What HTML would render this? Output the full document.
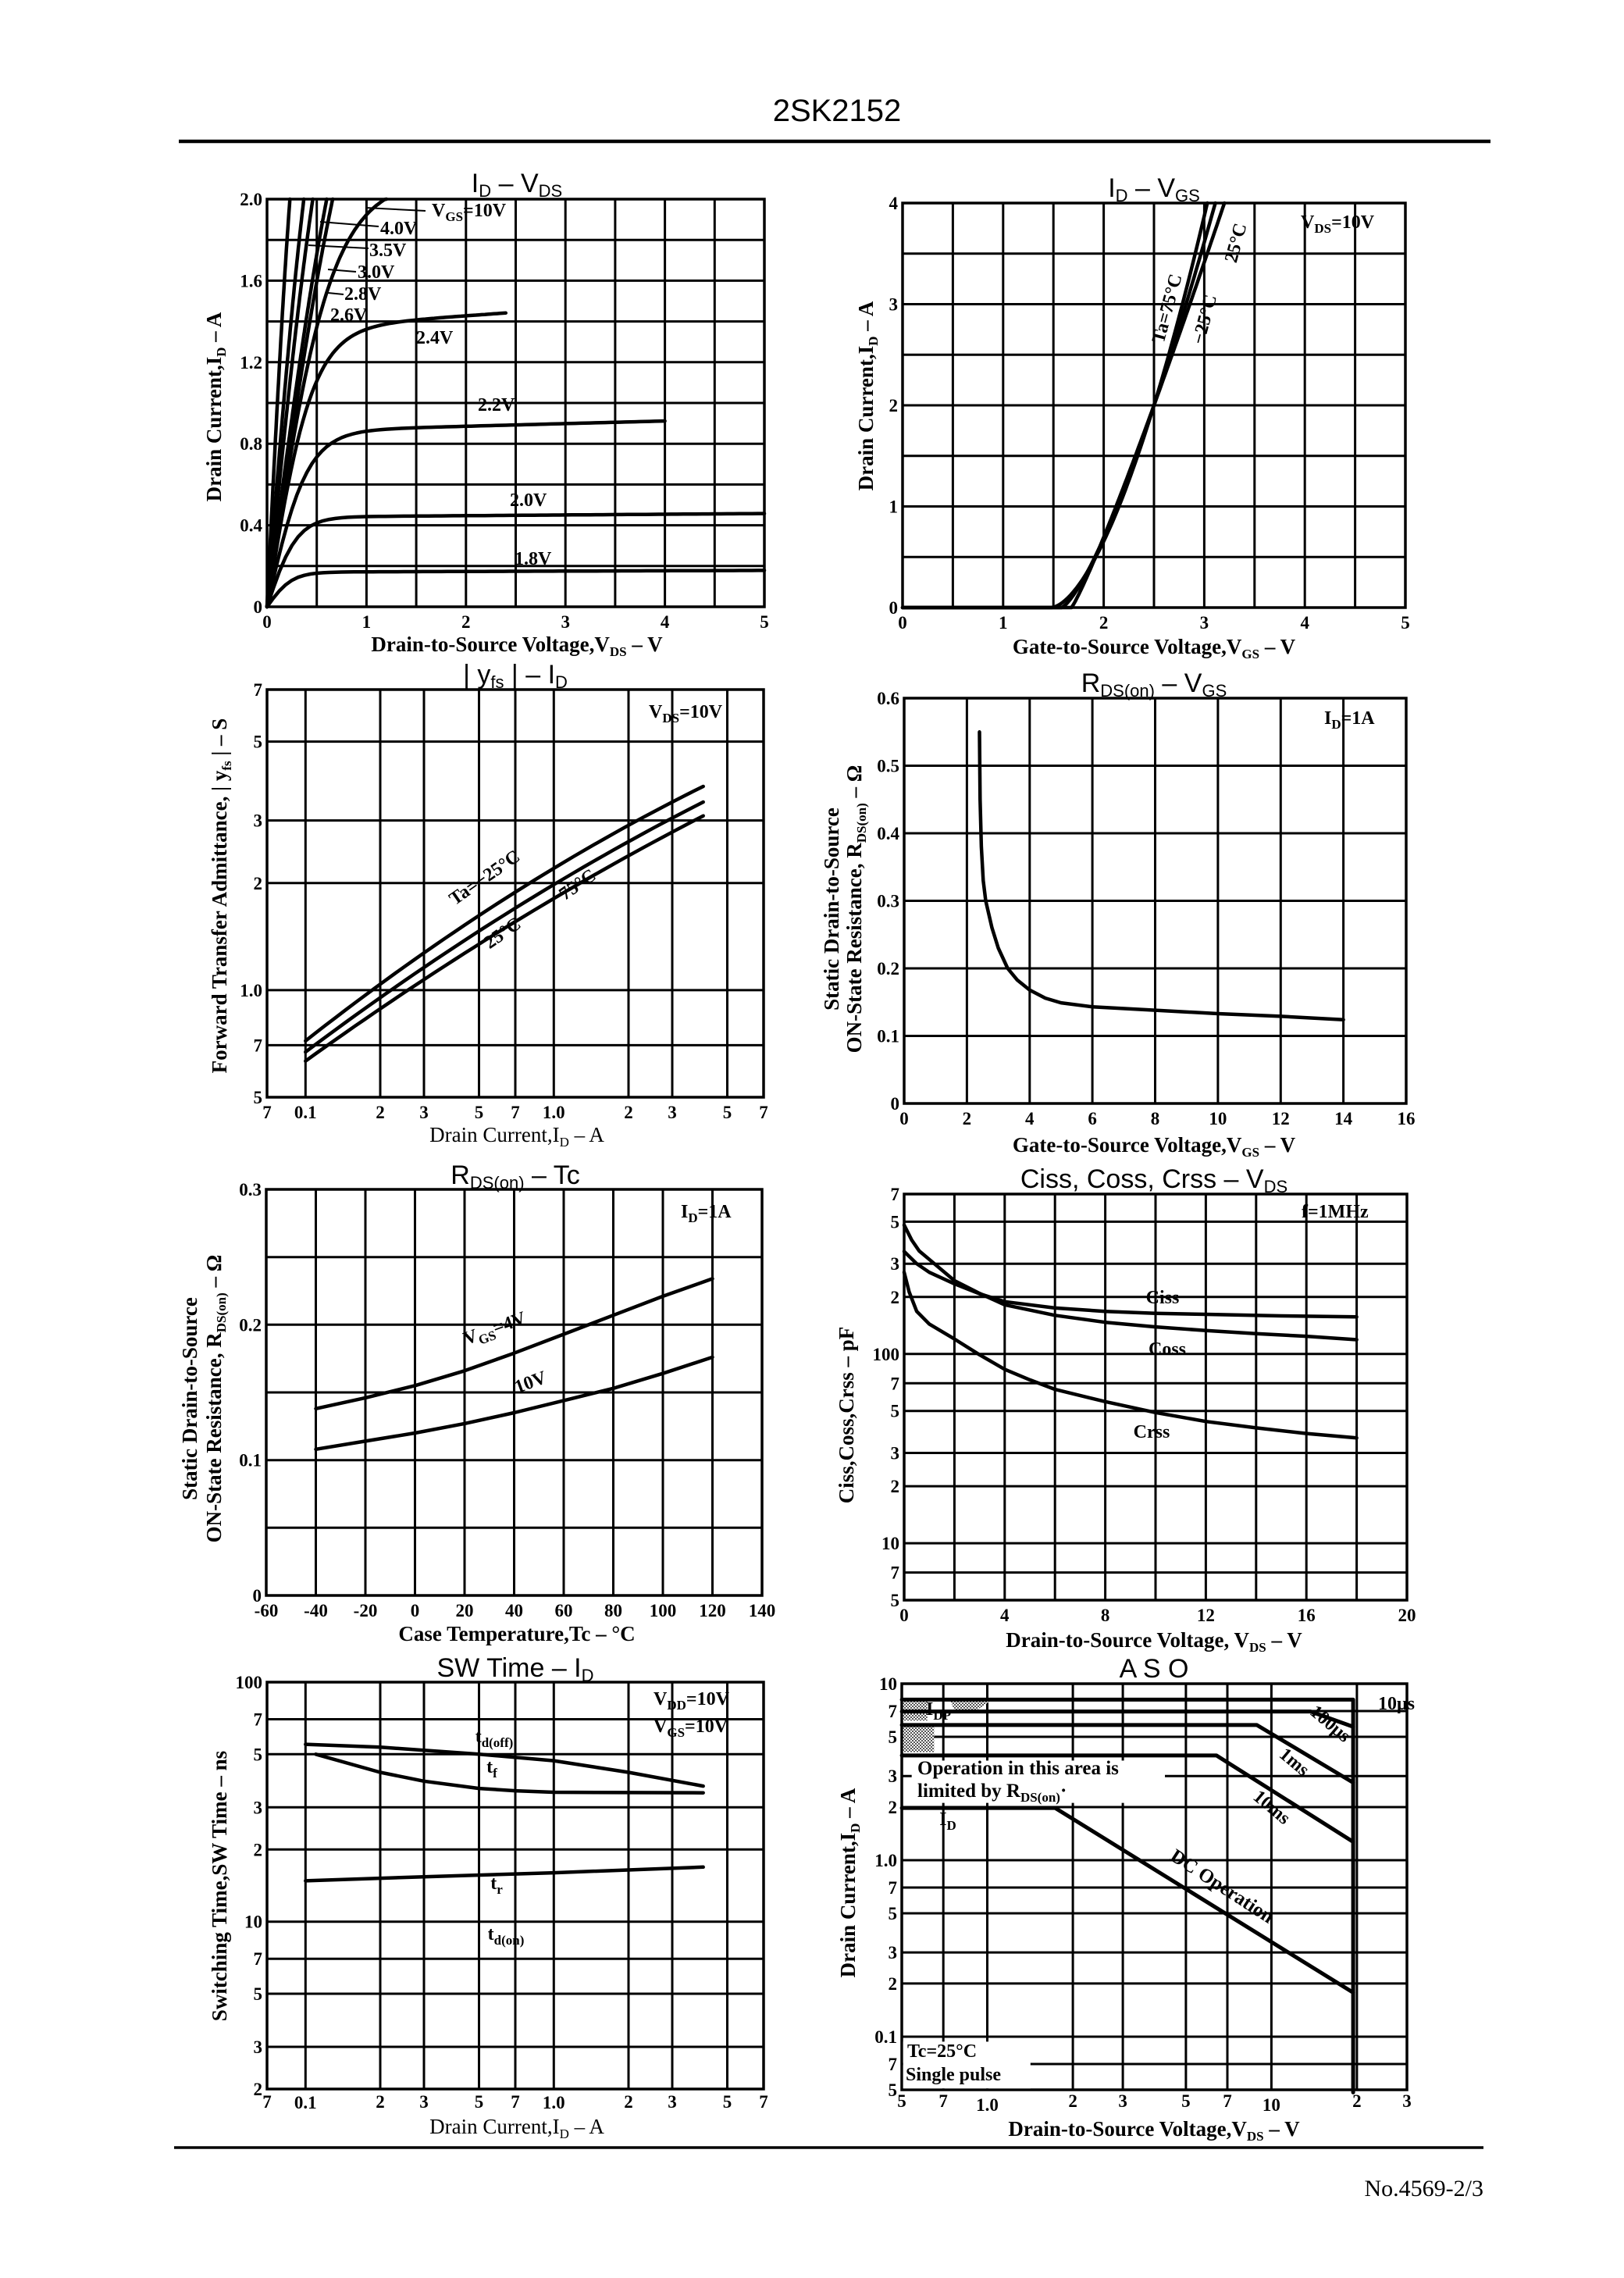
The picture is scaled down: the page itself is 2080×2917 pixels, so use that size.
<!DOCTYPE html>
<html><head><meta charset="utf-8"><style>
html,body{margin:0;padding:0;background:#fff}
svg{display:block}
</style></head><body>
<svg id="s" xmlns="http://www.w3.org/2000/svg" width="2080" height="2917" viewBox="0 0 2080 2917"></svg>
<script>
const S=[];
const SERIF='font-family="Liberation Serif, serif"';
const SANS='font-family="Liberation Sans, sans-serif"';
function L(x1,y1,x2,y2,w){w=w||3;S.push(`<line x1="${x1.toFixed(1)}" y1="${y1.toFixed(1)}" x2="${x2.toFixed(1)}" y2="${y2.toFixed(1)}" stroke="#000" stroke-width="${w}"/>`)}
function P(pts,w){w=w||4.5;S.push(`<polyline fill="none" stroke="#000" stroke-width="${w}" stroke-linejoin="round" stroke-linecap="round" points="${pts.map(p=>p[0].toFixed(1)+','+p[1].toFixed(1)).join(' ')}"/>`)}
function T(x,y,h,o){o=o||{};const sz=o.sz||24,an=o.an||'middle',fam=o.sans?SANS:SERIF,wt=o.wt||'bold';
 const tr=o.rot!==undefined?` transform="rotate(${o.rot} ${x} ${y})"`:'';
 S.push(`<text x="${x}" y="${y}" font-size="${sz}" text-anchor="${an}" ${fam} font-weight="${wt}"${tr}>${h}</text>`)}
function sub(t,sz){sz=sz||17;return `<tspan font-size="${sz}" dy="6">${t}</tspan><tspan dy="-6">`}
function mk(L0,T0,R0,B0,xa,xb,xl,ya,yb,yl){
 const X=v=>L0+(xl?Math.log10(v/xa)/Math.log10(xb/xa):(v-xa)/(xb-xa))*(R0-L0);
 const Y=v=>B0-(yl?Math.log10(v/ya)/Math.log10(yb/ya):(v-ya)/(yb-ya))*(B0-T0);
 return {L0,T0,R0,B0,X,Y};
}
function grid(c,xg,yg){
 xg.forEach(v=>L(c.X(v),c.T0,c.X(v),c.B0,3));
 yg.forEach(v=>L(c.L0,c.Y(v),c.R0,c.Y(v),3));
 S.push(`<rect x="${c.L0}" y="${c.T0}" width="${c.R0-c.L0}" height="${c.B0-c.T0}" fill="none" stroke="#000" stroke-width="3.5"/>`);
}
function curve(c,data,w){P(data.map(d=>[c.X(d[0]),c.Y(d[1])]),w)}
function fn(c,f,a,b,n,ymax){const d=[];for(let i=0;i<=n;i++){const v=a+(b-a)*i/n;let y=f(v);if(ymax!==undefined&&y>ymax){const pv=a+(b-a)*(i-1)/n;d.push([v,ymax]);break;}d.push([v,y]);}curve(c,d);}
function xt(c,vals,labs,dy){vals.forEach((v,i)=>T(c.X(v),c.B0+(dy||27),labs[i],{sz:23}))}
function yt(c,vals,labs,dx){vals.forEach((v,i)=>T(c.L0-(dx||6),c.Y(v)+8,labs[i],{sz:23,an:'end'}))}

// header
T(1072,155,'2SK2152',{sz:40,sans:true,wt:'normal'});
L(229,181,1909,181,4.5);
// footer
L(223,2750,1900,2750,3.5);
T(1900,2812,'No.4569-2/3',{sz:30,an:'end',wt:'normal'});

// ---------- Chart 1 ID-VDS
let c=mk(342,255,979,777,0,5,false,0,2,false);
grid(c,[0.5,1,1.5,2,2.5,3,3.5,4,4.5],[0.2,0.4,0.6,0.8,1,1.2,1.4,1.6,1.8]);
xt(c,[0,1,2,3,4,5],['0','1','2','3','4','5']);
yt(c,[0,0.4,0.8,1.2,1.6,2.0],['0','0.4','0.8','1.2','1.6','2.0']);
T(662,246,'I'+sub('D',22)+'  –  V'+sub('DS',22)+'</tspan>',{sz:34,sans:true,wt:'normal'});
T(662,834,'Drain-to-Source Voltage,V'+sub('DS')+' – V</tspan>',{sz:27});
T(283,521,'Drain Current,I'+sub('D')+' – A</tspan>',{sz:27,rot:-90});
fn(c,v=>0.17*Math.tanh(v/0.25)*(1+0.01*v),0,5,80);
fn(c,v=>0.44*Math.tanh(v/0.3)*(1+0.008*v),0,5,80);
fn(c,v=>0.86*Math.tanh(v/0.4)*(1+0.015*v),0,4,80);
fn(c,v=>1.36*Math.tanh(v/0.45)*(1+0.025*v),0,2.4,80);
fn(c,v=>2.1*Math.tanh(v/0.64),0,2,120,2);
[0.66,0.6,0.46,0.37,0.23].forEach(vt=>{const k=vt/Math.atanh(2/3.5);fn(c,v=>3.5*Math.tanh(v/k),0,1,200,2)});
T(553,277,'V'+sub('GS')+'=10V</tspan>',{sz:24,an:'start'});
T(487,300,'4.0V',{sz:24,an:'start'});
T(473,328,'3.5V',{sz:24,an:'start'});
T(458,356,'3.0V',{sz:24,an:'start'});
T(441,384,'2.8V',{sz:24,an:'start'});
T(423,411,'2.6V',{sz:24,an:'start'});
T(533,440,'2.4V',{sz:24,an:'start'});
T(612,526,'2.2V',{sz:24,an:'start'});
T(653,648,'2.0V',{sz:24,an:'start'});
T(659,723,'1.8V',{sz:24,an:'start'});
L(545,270,468,266,2);L(485,290,410,284,2);L(472,318,395,314,2);L(456,348,420,345,2);L(440,377,420,375,2);

// ---------- Chart 2 ID-VGS
c=mk(1156,260,1800,778,0,5,false,0,4,false);
grid(c,[0.5,1,1.5,2,2.5,3,3.5,4,4.5],[0.5,1,1.5,2,2.5,3,3.5]);
xt(c,[0,1,2,3,4,5],['0','1','2','3','4','5']);
yt(c,[0,1,2,3,4],['0','1','2','3','4']);
T(1478,252,'I'+sub('D',22)+'  –  V'+sub('GS',22)+'</tspan>',{sz:34,sans:true,wt:'normal'});
T(1478,837,'Gate-to-Source Voltage,V'+sub('GS')+' – V</tspan>',{sz:27});
T(1118,507,'Drain Current,I'+sub('D')+' – A</tspan>',{sz:27,rot:-90});
[[1.48,3.03],[1.58,3.11],[1.68,3.2]].forEach(([vt,vtop])=>{const n=Math.log(2)/Math.log((vtop-vt)/(2.5-vt));const k=2/Math.pow(2.5-vt,n);
 const d=[[0,0]];for(let i=0;i<=80;i++){const v=vt+(vtop-vt)*i/80;d.push([v,k*Math.pow(v-vt,n)])}curve(c,d)});
T(1666,292,'V'+sub('DS')+'=10V</tspan>',{sz:24,an:'start'});
T(1502,397,'Ta=75°C',{sz:24,rot:-75});
T(1590,313,'25°C',{sz:24,rot:-75});
T(1550,411,'−25°C',{sz:24,rot:-75});

// ---------- Chart 3 yfs-ID
c=mk(342,883,978,1405,0.07,7,true,0.5,7,true);
grid(c,[0.1,0.2,0.3,0.5,0.7,1,2,3,5],[0.7,1,2,3,5]);
xt(c,[0.07,0.1,0.2,0.3,0.5,0.7,1,2,3,5,7],['7','0.1','2','3','5','7','1.0','2','3','5','7']);
yt(c,[0.5,0.7,1,2,3,5,7],['5','7','1.0','2','3','5','7']);
T(660,875,'| y'+sub('fs',22)+' |  –  I</tspan>'+sub('D',22)+'</tspan>',{sz:34,sans:true,wt:'normal'});
T(662,1462,'Drain Current,I'+sub('D')+' – A</tspan>',{sz:27,wt:'normal'});
T(290,1147,'Forward Transfer Admittance, | y'+sub('fs')+' |  –  S</tspan>',{sz:27,rot:-90});
[[0.72,2.2,3.74],[0.67,1.98,3.38],[0.632,1.81,3.09]].forEach(([a,m,b])=>{
 const la=Math.log10(a),lm=Math.log10(m),lb=Math.log10(b);const x0=-1,x1=0,x2=Math.log10(4);
 const d=[];for(let i=0;i<=40;i++){const x=x0+(x2-x0)*i/40;
 const y=la*(x-x1)*(x-x2)/((x0-x1)*(x0-x2))+lm*(x-x0)*(x-x2)/((x1-x0)*(x1-x2))+lb*(x-x0)*(x-x1)/((x2-x0)*(x2-x1));d.push([Math.pow(10,x),Math.pow(10,y)])}curve(c,d)});
T(831,919,'V'+sub('DS')+'=10V</tspan>',{sz:24,an:'start'});
T(625,1130,'Ta=−25°C',{sz:24,rot:-35});
T(744,1139,'75°C',{sz:24,rot:-35});
T(648,1201,'25°C',{sz:24,rot:-35});

// ---------- Chart 4 Rds-VGS
c=mk(1158,894,1801,1413,0,16,false,0,0.6,false);
grid(c,[2,4,6,8,10,12,14],[0.1,0.2,0.3,0.4,0.5]);
xt(c,[0,2,4,6,8,10,12,14,16],['0','2','4','6','8','10','12','14','16']);
yt(c,[0,0.1,0.2,0.3,0.4,0.5,0.6],['0','0.1','0.2','0.3','0.4','0.5','0.6']);
T(1478,886,'R'+sub('DS(on)',22)+'  –  V</tspan>'+sub('GS',22)+'</tspan>',{sz:34,sans:true,wt:'normal'});
T(1478,1475,'Gate-to-Source Voltage,V'+sub('GS')+' – V</tspan>',{sz:27});
T(1074,1164,'Static Drain-to-Source',{sz:27,rot:-90});
T(1103,1164,'ON-State Resistance, R'+sub('DS(on)')+' – Ω</tspan>',{sz:27,rot:-90});
curve(c,[[2.4,0.55],[2.42,0.45],[2.46,0.38],[2.52,0.33],[2.6,0.3],[2.8,0.26],[3.0,0.23],[3.3,0.2],[3.6,0.183],[4,0.168],[4.5,0.156],[5,0.149],[6,0.143],[8,0.138],[10,0.133],[12,0.129],[14,0.124]]);
T(1696,927,'I'+sub('D')+'=1A</tspan>',{sz:24,an:'start'});

// ---------- Chart 5 Rds-Tc
c=mk(341,1523,976,2043,-60,140,false,0,0.3,false);
grid(c,[-40,-20,0,20,40,60,80,100,120],[0.05,0.1,0.15,0.2,0.25]);
xt(c,[-60,-40,-20,0,20,40,60,80,100,120,140],['-60','-40','-20','0','20','40','60','80','100','120','140']);
yt(c,[0,0.1,0.2,0.3],['0','0.1','0.2','0.3']);
T(660,1516,'R'+sub('DS(on)',22)+'  –  Tc</tspan>',{sz:34,sans:true,wt:'normal'});
T(662,2101,'Case Temperature,Tc – °C',{sz:27});
T(252,1791,'Static Drain-to-Source',{sz:27,rot:-90});
T(283,1791,'ON-State Resistance, R'+sub('DS(on)')+' – Ω</tspan>',{sz:27,rot:-90});
curve(c,[[-40,0.138],[-20,0.146],[0,0.155],[20,0.166],[40,0.179],[60,0.193],[80,0.207],[100,0.221],[120,0.234]]);
curve(c,[[-40,0.108],[-20,0.114],[0,0.12],[20,0.127],[40,0.135],[60,0.144],[80,0.153],[100,0.164],[120,0.176]]);
T(872,1559,'I'+sub('D')+'=1A</tspan>',{sz:24,an:'start'});
T(636,1708,'V'+sub('GS')+'=4V</tspan>',{sz:24,rot:-20});
T(682,1777,'10V',{sz:24,rot:-20});

// ---------- Chart 6 C-VDS
c=mk(1158,1529,1802,2049,0,20,false,5,700,true);
grid(c,[2,4,6,8,10,12,14,16,18],[7,10,20,30,50,70,100,200,300,500]);
xt(c,[0,4,8,12,16,20],['0','4','8','12','16','20']);
yt(c,[5,7,10,20,30,50,70,100,200,300,500,700],['5','7','10','2','3','5','7','100','2','3','5','7']);
T(1478,1521,'Ciss, Coss, Crss  –  V'+sub('DS',22)+'</tspan>',{sz:34,sans:true,wt:'normal'});
T(1478,2109,'Drain-to-Source Voltage, V'+sub('DS')+' – V</tspan>',{sz:27});
T(1093,1812,'Ciss,Coss,Crss – pF',{sz:27,rot:-90});
curve(c,[[0,348],[0.5,300],[1,270],[2,235],[3,208],[4,189],[6,175],[8,168],[10,164],[12,162],[15,159],[18,157]]);
curve(c,[[0,480],[0.3,400],[0.6,350],[1,316],[2,244],[3,209],[4,182],[6,160],[8,147],[10,139],[12,133],[14,128],[16,124],[18,119]]);
curve(c,[[0,270],[0.2,213],[0.5,168],[1,144],[2,120],[3,99],[4,83],[5,73],[6,65],[8,56],[10,49],[12,44],[14,40.7],[16,38],[18,36]]);
T(1489,1669,'Ciss',{sz:24});T(1495,1735,'Coss',{sz:24});T(1475,1841,'Crss',{sz:24});
T(1667,1559,'f=1MHz',{sz:24,an:'start'});

// ---------- Chart 7 SW time
c=mk(342,2154,978,2675,0.07,7,true,2,100,true);
grid(c,[0.1,0.2,0.3,0.5,0.7,1,2,3,5],[3,5,7,10,20,30,50,70]);
xt(c,[0.07,0.2,0.3,0.5,0.7,2,3,5,7],['7','2','3','5','7','2','3','5','7'],24);
T(c.X(0.1),2700,'0.1',{sz:23});T(c.X(1),2700,'1.0',{sz:23});
yt(c,[2,3,5,7,10,20,30,50,70,100],['2','3','5','7','10','2','3','5','7','100']);
T(660,2147,'SW Time  –  I'+sub('D',22)+'</tspan>',{sz:34,sans:true,wt:'normal'});
T(662,2732,'Drain Current,I'+sub('D')+' – A</tspan>',{sz:27,wt:'normal'});
T(290,2415,'Switching Time,SW Time – ns',{sz:27,rot:-90});
curve(c,[[0.1,55],[0.2,53.5],[0.5,50],[1,47],[2,42],[4,36.8]]);
curve(c,[[0.11,50],[0.2,42],[0.3,38.6],[0.5,36],[0.7,35.2],[1,34.7],[4,34.5]]);
curve(c,[[0.1,14.8],[0.3,15.4],[1,16],[4,16.9]]);
T(837,2183,'V'+sub('DD')+'=10V</tspan>',{sz:24,an:'start'});
T(837,2218,'V'+sub('GS')+'=10V</tspan>',{sz:24,an:'start'});
T(633,2231,'t'+sub('d(off)')+'</tspan>',{sz:24});
T(630,2270,'t'+sub('f')+'</tspan>',{sz:24});
T(636,2419,'t'+sub('r')+'</tspan>',{sz:24});
T(648,2484,'t'+sub('d(on)')+'</tspan>',{sz:24});

// ---------- Chart 8 ASO
c=mk(1155,2156,1802,2676,0.5,30,true,0.05,10,true);
grid(c,[0.7,1,2,3,5,7,10,20],[0.07,0.1,0.2,0.3,0.5,0.7,1,2,3,5,7]);
xt(c,[0.5,0.7,2,3,5,7,20,30],['5','7','2','3','5','7','2','3'],22);
T(c.X(1),2703,'1.0',{sz:23});T(c.X(10),2703,'10',{sz:23});
yt(c,[0.05,0.07,0.1,0.2,0.3,0.5,0.7,1,2,3,5,7,10],['5','7','0.1','2','3','5','7','1.0','2','3','5','7','10']);
T(1478,2148,'A S O',{sz:34,sans:true,wt:'normal'});
T(1478,2735,'Drain-to-Source Voltage,V'+sub('DS')+' – V</tspan>',{sz:27});
T(1095,2411,'Drain Current,I'+sub('D')+' – A</tspan>',{sz:27,rot:-90});
const zx=v=>1050+v/1.742, zy=v=>2120+v/2.306;
S.push(`<defs><pattern id="dots" width="4" height="4" patternUnits="userSpaceOnUse"><rect width="4" height="4" fill="#fff"/><rect width="2" height="2" fill="#555"/><rect x="2" y="2" width="2" height="2" fill="#555"/></pattern></defs>`);
S.push(`<rect x="${zx(186)}" y="${zy(128)}" width="${zx(240)-zx(186)}" height="${zy(192)-zy(128)}" fill="url(#dots)"/>`);
S.push(`<rect x="${zx(186)}" y="${zy(205)}" width="${zx(255)-zx(186)}" height="${zy(285)-zy(205)}" fill="url(#dots)"/>`);
S.push(`<polygon points="${zx(290)},${zy(130)} ${zx(385)},${zy(130)} ${zx(340)},${zy(170)} ${zx(300)},${zy(160)}" fill="url(#dots)"/>`);
P([[zx(183),zy(130)],[zx(1190),zy(130)],[zx(1190),zy(1290)]],5);
P([[zx(183),zy(165)],[zx(1095),zy(165)],[zx(1190),zy(210)]],5);
P([[zx(183),zy(205)],[zx(975),zy(205)],[zx(1190),zy(375)]],5);
P([[zx(183),zy(295)],[zx(885),zy(295)],[zx(1190),zy(550)]],5);
P([[zx(183),zy(450)],[zx(525),zy(450)],[zx(1190),zy(995)]],5);
S.push(`<rect x="${zx(205)}" y="${zy(310)}" width="${zx(770)-zx(205)}" height="${zy(435)-zy(310)}" fill="#fff"/>`);
T(1765,2189,'10μs',{sz:24,an:'start'});
T(1699,2213,'100μs',{sz:24,rot:40});
T(1653,2262,'1ms',{sz:24,rot:40});
T(1624,2320,'10ms',{sz:24,rot:40});
T(1561,2422,'DC Operation',{sz:25,rot:33});
T(1175,2272,'Operation in this area is',{sz:25,an:'start'});
T(1175,2301,'limited by R'+sub('DS(on)')+'·</tspan>',{sz:25,an:'start'});
T(1214,2337,'I'+sub('D')+'</tspan>',{sz:24});
T(1202,2196,'I'+sub('DP')+'</tspan>',{sz:24});
S.push(`<rect x="${zx(186)}" y="${zy(1140)}" width="${zx(470)-zx(186)}" height="${zy(1278)-zy(1140)}" fill="#fff"/>`);
T(1162,2634,'Tc=25°C',{sz:24,an:'start'});
T(1160,2664,'Single pulse',{sz:24,an:'start'});

document.getElementById('s').innerHTML=S.join('');
</script>
</body></html>
